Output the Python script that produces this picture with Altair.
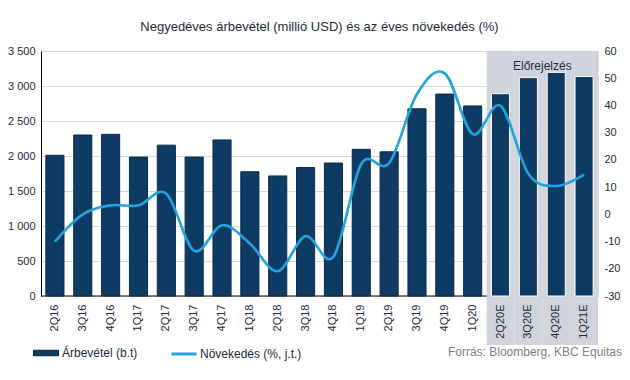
import altair as alt
import pandas as pd

categories = ["2Q16", "3Q16", "4Q16", "1Q17", "2Q17", "3Q17", "4Q17", "1Q18", "2Q18", "3Q18",
              "4Q18", "1Q19", "2Q19", "3Q19", "4Q19", "1Q20", "2Q20E", "3Q20E", "4Q20E", "1Q21E"]
revenue = [2010, 2300, 2310, 1985, 2155, 1985, 2230, 1775, 1715, 1835,
           1900, 2095, 2060, 2675, 2885, 2715, 2890, 3120, 3195, 3135]
growth = [-10, 0, 3.3, 3.3, 7.6, -13.4, -4, -10.7, -20.9, -8,
          -15.6, 18.5, 18.8, 44.2, 51.8, 29.5, 39.9, 14.9, 10.4, 14.6]
forecast = [c.endswith("E") for c in categories]

title_text = "Negyedéves árbevétel (millió USD) és az éves növekedés (%)"
forecast_label = "Előrejelzés"
bar_label = "Árbevétel (b.t)"
line_label = "Növekedés (%, j.t.)"
source_text = "Forrás: Bloomberg, KBC Equitas"

df = pd.DataFrame({"cat": categories, "rev": revenue, "growth": growth, "forecast": forecast,
                   "s_bar": bar_label, "s_line": line_label})

FONT = "Liberation Sans"
NAVY = "#0d3b63"
BLUE = "#22a3dc"
SHADE = "#cfd5da"
TEXT = "#1c2b3a"
W, H = 557, 245

xenc = alt.X("cat:N", sort=categories,
             scale=alt.Scale(paddingInner=0, paddingOuter=0),
             axis=alt.Axis(title=None, labelAngle=-90, labelAlign="right", labelBaseline="middle",
                           labelPadding=8, ticks=False, domain=False, grid=False, zindex=1,
                           labelFont=FONT, labelFontSize=11, labelColor=TEXT))

base = alt.Chart(df)

shade = base.transform_filter("datum.forecast").mark_rect(color=SHADE).encode(
    x=xenc, y=alt.value(0), y2=alt.value(294))

baseline = base.transform_filter("!datum.forecast").mark_rect(color="#000000").encode(
    x=xenc, y=alt.value(H - 0.5), y2=alt.value(H + 0.5))

bars = base.mark_bar(width=alt.RelativeBandSize(0.65), strokeWidth=1).encode(
    x=xenc,
    y=alt.Y("rev:Q", scale=alt.Scale(domain=[0, 3500], nice=False),
            axis=alt.Axis(title=None, orient="left", values=list(range(0, 3501, 500)),
                          labelExpr="replace(format(datum.value, ',d'), ',', ' ')",
                          ticks=False, domain=True, domainColor="#000000", domainWidth=1,
                          grid=True, gridColor="#d9d9d9", labelPadding=6,
                          labelFont=FONT, labelFontSize=11, labelColor=TEXT)),
    fill=alt.Fill("s_bar:N", scale=alt.Scale(domain=[bar_label], range=[NAVY]),
                  legend=alt.Legend(title=None, orient="none", legendX=-8, legendY=289,
                                    symbolType="M-1,-0.22H1V0.22H-1Z", symbolSize=625,
                                    symbolStrokeColor="#0a2540", symbolStrokeWidth=1,
                                    labelFont=FONT, labelFontSize=12, labelColor=TEXT,
                                    labelOffset=3)),
    stroke=alt.condition("datum.forecast", alt.value("#ffffff"), alt.value("#0a2c4a")),
)

label = alt.Chart(pd.DataFrame({"t": [forecast_label]})).mark_text(
    font=FONT, fontSize=12, color=TEXT, baseline="middle", align="center").encode(
    x=alt.XDatum("3Q20E", bandPosition=1),
    y=alt.value(15), text="t:N")

line = base.mark_line(interpolate="cardinal", strokeWidth=2.6).encode(
    x=xenc,
    y=alt.Y("growth:Q", scale=alt.Scale(domain=[-30, 60], nice=False),
            axis=alt.Axis(title=None, orient="right", values=list(range(-30, 61, 10)),
                          labelExpr="'' + datum.value",
                          ticks=False, domain=False, grid=False, labelPadding=6,
                          labelFont=FONT, labelFontSize=11, labelColor=TEXT)),
    stroke=alt.Stroke("s_line:N", scale=alt.Scale(domain=[line_label], range=[BLUE]),
                      legend=alt.Legend(title=None, orient="none", legendX=129, legendY=289,
                                        symbolType="stroke", symbolSize=625,
                                        symbolStrokeWidth=3,
                                        labelFont=FONT, labelFontSize=12, labelColor=TEXT,
                                        labelOffset=2)),
)

source = alt.Chart(pd.DataFrame({"t": [source_text]})).mark_text(
    font=FONT, fontSize=12, color="#808080", align="right", baseline="middle").encode(
    x=alt.value(581), y=alt.value(301), text="t:N")

chart = alt.layer(shade, baseline, bars, label, line, source).resolve_scale(
    y="independent", fill="independent", stroke="independent"
).properties(
    width=W, height=H,
    title=alt.TitleParams(title_text, font=FONT, fontSize=13, fontWeight="normal",
                          color=TEXT, anchor="middle", frame="group", offset=11),
    autosize=alt.AutoSizeParams(type="none"),
    padding={"left": 33, "top": 43, "right": 24, "bottom": 72},
).configure_view(stroke=None).configure(background="white")

chart.save("out.html", embed_options={"renderer": "svg", "actions": False})
